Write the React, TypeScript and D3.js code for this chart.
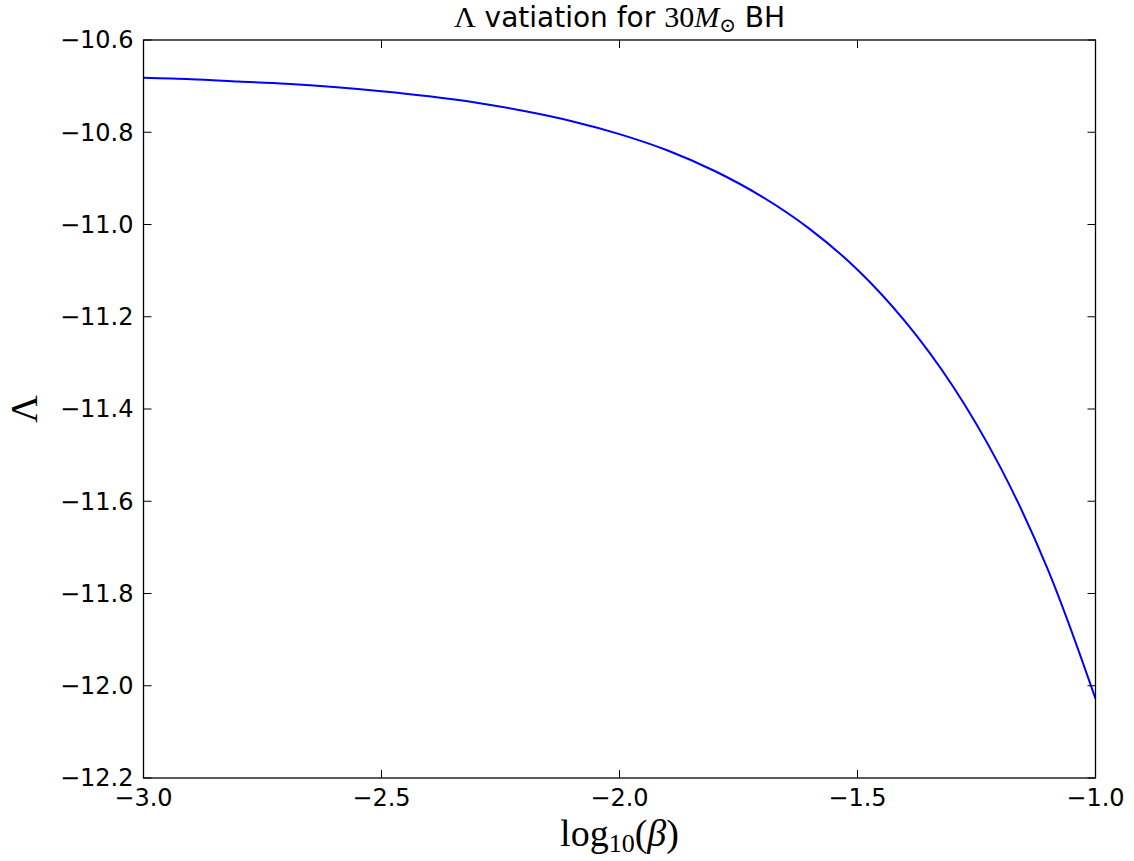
import React from 'react';
import * as d3 from 'd3';

// log10(beta) samples and the Lambda values
const logBeta = [-3.0, -2.9, -2.8, -2.7, -2.6, -2.5, -2.4, -2.3, -2.2, -2.1, -2.0, -1.9, -1.8, -1.7, -1.6, -1.5, -1.4, -1.3, -1.2, -1.1, -1.0];
const lambda = [-10.682, -10.685, -10.69, -10.695, -10.702, -10.711, -10.722, -10.736, -10.754, -10.776, -10.804, -10.839, -10.884, -10.94, -11.01, -11.098, -11.21, -11.35, -11.526, -11.748, -12.028];

const xTicks = [-3.0, -2.5, -2.0, -1.5, -1.0];
const yTicks = [-10.6, -10.8, -11.0, -11.2, -11.4, -11.6, -11.8, -12.0, -12.2];

const W = 1134;
const H = 861;
const margin = { top: 40, right: 38.5, bottom: 83, left: 143.5 };

const sans = 'DejaVu Sans, sans-serif';
const serif = 'Liberation Serif, DejaVu Serif, serif';
const fmt = (v: number) => v.toFixed(1).replace('-', '\u2212');

const App: React.FC = () => {
  const x = d3.scaleLinear().domain([-3, -1]).range([margin.left, W - margin.right]);
  const y = d3.scaleLinear().domain([-12.2, -10.6]).range([H - margin.bottom, margin.top]);

  const pts = logBeta.map((b, i) => [b, lambda[i]] as [number, number]);
  const line = d3
    .line<[number, number]>()
    .x((d) => x(d[0]))
    .y((d) => y(d[1]))
    .curve(d3.curveCatmullRom);

  const x0 = x(-3);
  const x1 = x(-1);
  const y0 = y(-12.2);
  const y1 = y(-10.6);
  const tick = 8;

  return (
    <svg width={W} height={H} style={{ position: 'absolute', left: 0, top: 0, background: '#fff' }}>
      <defs>
        <clipPath id="plot">
          <rect x={x0} y={y1} width={x1 - x0} height={y0 - y1} />
        </clipPath>
      </defs>

      <path d={line(pts) || ''} fill="none" stroke="#0000ff" strokeWidth={2} clipPath="url(#plot)" />

      {/* ticks, inward on all four sides */}
      {xTicks.map((t) => (
        <g key={'x' + t}>
          <line x1={x(t)} x2={x(t)} y1={y0} y2={y0 - tick} stroke="#000" strokeWidth={1} />
          <line x1={x(t)} x2={x(t)} y1={y1} y2={y1 + tick} stroke="#000" strokeWidth={1} />
          <text x={x(t)} y={y0 + 28} textAnchor="middle" fontFamily={sans} fontSize={24}>
            {fmt(t)}
          </text>
        </g>
      ))}
      {yTicks.map((t) => (
        <g key={'y' + t}>
          <line x1={x0} x2={x0 + tick} y1={y(t)} y2={y(t)} stroke="#000" strokeWidth={1} />
          <line x1={x1} x2={x1 - tick} y1={y(t)} y2={y(t)} stroke="#000" strokeWidth={1} />
          <text x={x0 - 10} y={y(t)} dy="0.35em" textAnchor="end" fontFamily={sans} fontSize={24}>
            {fmt(t)}
          </text>
        </g>
      ))}

      <rect x={x0} y={y1} width={x1 - x0} height={y0 - y1} fill="none" stroke="#000" strokeWidth={1.3} />

      {/* title */}
      <text x={(x0 + x1) / 2} y={27} textAnchor="middle" fontSize={28} fontFamily={sans}>
        <tspan fontFamily={serif} fontSize={30}>Λ</tspan>
        <tspan> vatiation for </tspan>
        <tspan fontFamily={serif} fontSize={30}>30</tspan>
        <tspan fontFamily={serif} fontSize={30} fontStyle="italic">M</tspan>
        <tspan fontFamily={serif} fontSize={20} dy={5}>⊙</tspan>
        <tspan dy={-5}> BH</tspan>
      </text>

      {/* x label */}
      <text x={(x0 + x1) / 2} y={846} textAnchor="middle" fontFamily={serif} fontSize={38}>
        <tspan>log</tspan>
        <tspan fontSize={26} dy={6}>10</tspan>
        <tspan dy={-6}>(</tspan>
        <tspan fontStyle="italic">β</tspan>
        <tspan>)</tspan>
      </text>

      {/* y label */}
      <text
        transform={`translate(37, ${(y0 + y1) / 2}) rotate(-90)`}
        textAnchor="middle"
        fontFamily={serif}
        fontSize={38}
      >
        Λ
      </text>
    </svg>
  );
};

export default App;
